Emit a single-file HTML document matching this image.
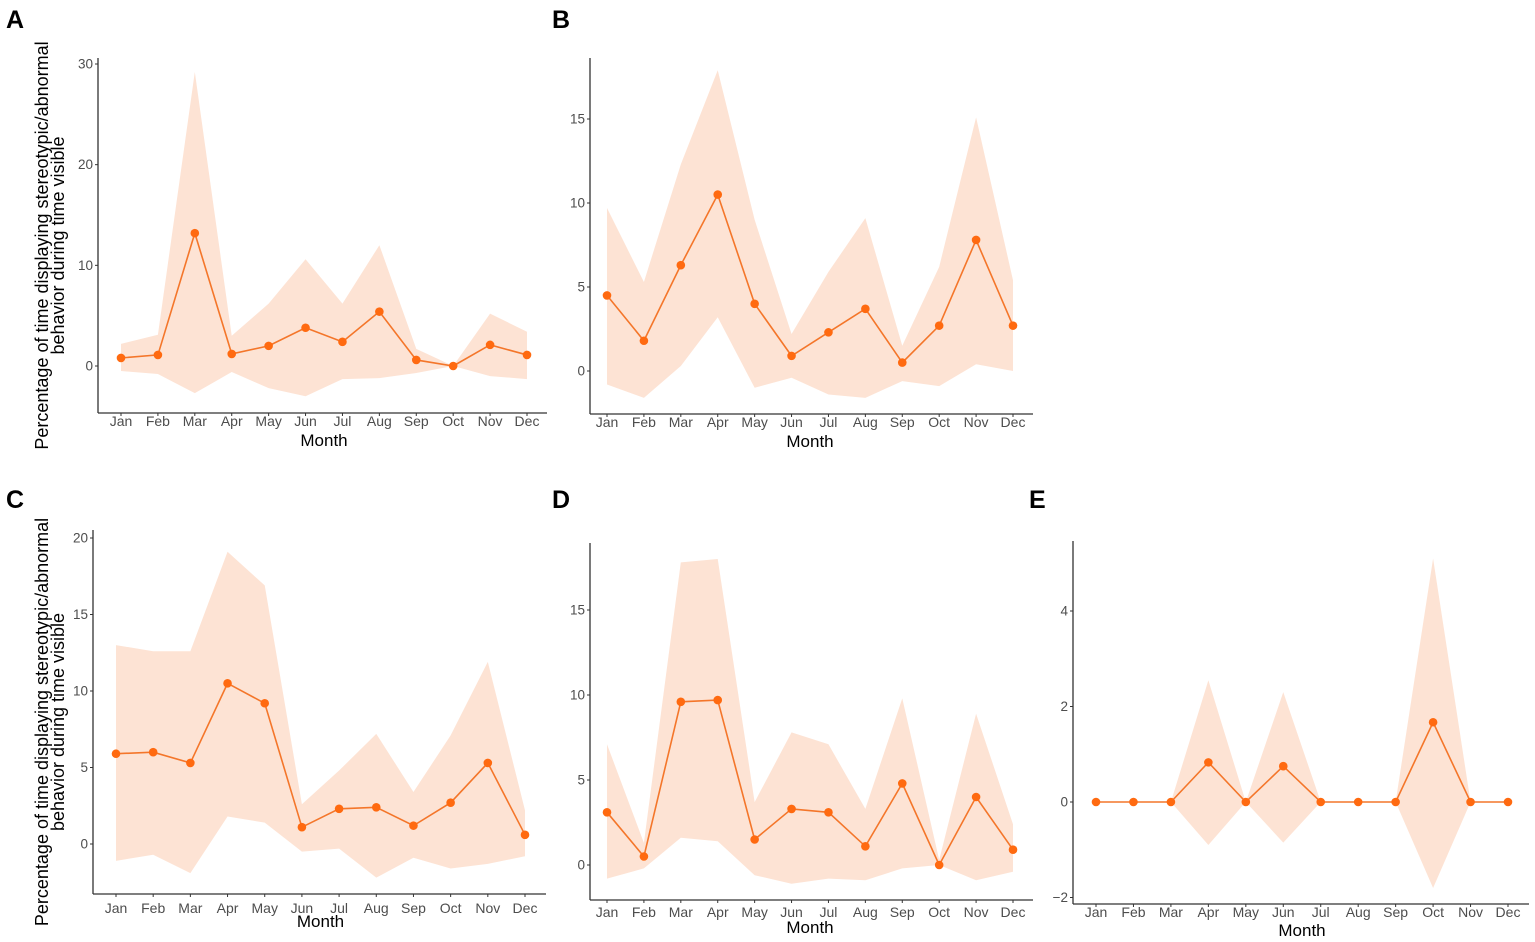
<!DOCTYPE html>
<html><head><meta charset="utf-8">
<style>
body{margin:0;background:#fff;width:1535px;height:942px;overflow:hidden}
svg{display:block;font-family:"Liberation Sans",sans-serif}
</style></head>
<body>
<svg id="fig" width="1535" height="942"></svg>
<script>
const months=["Jan","Feb","Mar","Apr","May","Jun","Jul","Aug","Sep","Oct","Nov","Dec"];
const meanA=[0.8,1.1,13.2,1.2,2.0,3.8,2.4,5.4,0.6,0,2.1,1.1];
const upA=[2.2,3.1,29.2,3.0,6.2,10.6,6.2,12.0,1.7,0,5.2,3.4];
const loA=[-0.5,-0.8,-2.7,-0.6,-2.2,-3.0,-1.3,-1.2,-0.7,0,-1.0,-1.3];
const ticksA=[0,10,20,30];
const meanB=[4.5,1.8,6.3,10.5,4.0,0.9,2.3,3.7,0.5,2.7,7.8,2.7];
const upB=[9.7,5.3,12.3,17.9,9.0,2.2,5.9,9.1,1.5,6.2,15.1,5.4];
const loB=[-0.8,-1.6,0.3,3.2,-1.0,-0.4,-1.4,-1.6,-0.6,-0.9,0.4,0.0];
const ticksB=[0,5,10,15];
const meanC=[5.9,6.0,5.3,10.5,9.2,1.1,2.3,2.4,1.2,2.7,5.3,0.6];
const upC=[13.0,12.6,12.6,19.1,16.9,2.6,4.8,7.2,3.4,7.1,11.9,2.2];
const loC=[-1.1,-0.7,-1.9,1.8,1.4,-0.5,-0.3,-2.2,-0.9,-1.6,-1.3,-0.8];
const ticksC=[0,5,10,15,20];
const meanD=[3.1,0.5,9.6,9.7,1.5,3.3,3.1,1.1,4.8,0,4.0,0.9];
const upD=[7.1,1.3,17.8,18.0,3.7,7.8,7.1,3.3,9.8,0.3,8.9,2.4];
const loD=[-0.8,-0.2,1.6,1.4,-0.6,-1.1,-0.8,-0.9,-0.2,0,-0.9,-0.4];
const ticksD=[0,5,10,15];
const meanE=[0,0,0,0.83,0,0.75,0,0,0,1.67,0,0];
const upE=[0,0,0,2.55,0,2.3,0,0,0,5.1,0,0];
const loE=[0,0,0,-0.9,0,-0.85,0,0,0,-1.8,0,0];
const ticksE=[-2,0,2,4];

const NS="http://www.w3.org/2000/svg";
const svg=document.getElementById('fig');
function mk(tag,attrs,parent,text){const e=document.createElementNS(NS,tag);for(const k in attrs)e.setAttribute(k,attrs[k]);if(text!==undefined)e.textContent=text;(parent||svg).appendChild(e);return e;}

const panels=[
 {id:'a',L:'A',lx:6,ly:28,ax:98,top:58,bot:413,x0:121,x1:527,xr:547,va:0,ya:366,vb:30,yb:64,mean:meanA,up:upA,lo:loA,ticks:ticksA,tly:426,mly:446,ytitle:true},
 {id:'b',L:'B',lx:552,ly:28,ax:590,top:58,bot:414,x0:607,x1:1013,xr:1033,va:0,ya:371,vb:15,yb:119,mean:meanB,up:upB,lo:loB,ticks:ticksB,tly:427,mly:447},
 {id:'c',L:'C',lx:6,ly:508,ax:93,top:530,bot:894,x0:116,x1:525,xr:546,va:0,ya:844,vb:20,yb:538,mean:meanC,up:upC,lo:loC,ticks:ticksC,tly:913,mly:927,ytitle:true},
 {id:'d',L:'D',lx:552,ly:508,ax:590,top:543,bot:900,x0:607,x1:1013,xr:1033,va:0,ya:865,vb:15,yb:610,mean:meanD,up:upD,lo:loD,ticks:ticksD,tly:917,mly:933},
 {id:'e',L:'E',lx:1029,ly:508,ax:1073,top:541,bot:904,x0:1096,x1:1508,xr:1529,va:0,ya:802,vb:4,yb:611,mean:meanE,up:upE,lo:loE,ticks:ticksE,tly:917,mly:936}
];
panels.forEach(p=>{
  const g=mk('g',{});
  
  
  const X=i=>p.x0+(p.x1-p.x0)*i/(months.length-1);
  const Y=v=>p.ya+(v-p.va)*(p.yb-p.ya)/(p.vb-p.va);
  const lab=mk('text',{x:p.lx,y:p.ly,'font-size':25,'font-weight':'bold',fill:'#000'},g,p.L);
  
  
  let pts=p.up.map((v,i)=>X(i)+','+Y(v));
  for(let i=p.lo.length-1;i>=0;i--)pts.push(X(i)+','+Y(p.lo[i]));
  const rib=mk('polygon',{points:pts.join(' '),fill:'#fde3d4'},g);
  
  
  const line=mk('polyline',{points:p.mean.map((v,i)=>X(i)+','+Y(v)).join(' '),fill:'none',stroke:'#f4762a','stroke-width':1.6},g);
  
  
  p.mean.forEach((v,i)=>{
    const c=mk('circle',{cx:X(i),cy:Y(v),r:4.3,fill:'#ff6a10'},g);
    
    
  });
  const ya=mk('line',{x1:p.ax,y1:p.top,x2:p.ax,y2:p.bot,stroke:'#333','stroke-width':1.3},g);
  
  
  const xa=mk('line',{x1:p.ax,y1:p.bot,x2:p.xr,y2:p.bot,stroke:'#333','stroke-width':1.3},g);
  
  
  p.ticks.forEach(t=>{
    mk('line',{x1:p.ax-3,y1:Y(t),x2:p.ax,y2:Y(t),stroke:'#333','stroke-width':1},g);
    const tl=mk('text',{x:p.ax-5,y:Y(t)+4.5,'font-size':13.5,fill:'#4d4d4d','text-anchor':'end'},g,t<0?'\u2212'+(-t):String(t));
    
    
  });
  months.forEach((m,i)=>{
    mk('line',{x1:X(i),y1:p.bot,x2:X(i),y2:p.bot+3,stroke:'#333','stroke-width':1},g);
    const tl=mk('text',{x:X(i),y:p.tly,'font-size':14,fill:'#4d4d4d','text-anchor':'middle'},g,m);
    
    
  });
  const mt=mk('text',{x:(p.x0+p.x1)/2,y:p.mly,'font-size':17,fill:'#000','text-anchor':'middle'},g,'Month');
  
  
  if(p.ytitle){
    const cy=(p.top+p.bot)/2+10;
    const t=mk('text',{transform:'translate(48,'+cy+') rotate(-90)','font-size':18,fill:'#000','text-anchor':'middle'},g);
    
    
    mk('tspan',{x:0,y:0},t,'Percentage of time displaying stereotypic/abnormal');
    mk('tspan',{x:0,y:16},t,'behavior during time visible');
  }
});
</script>
</body></html>
